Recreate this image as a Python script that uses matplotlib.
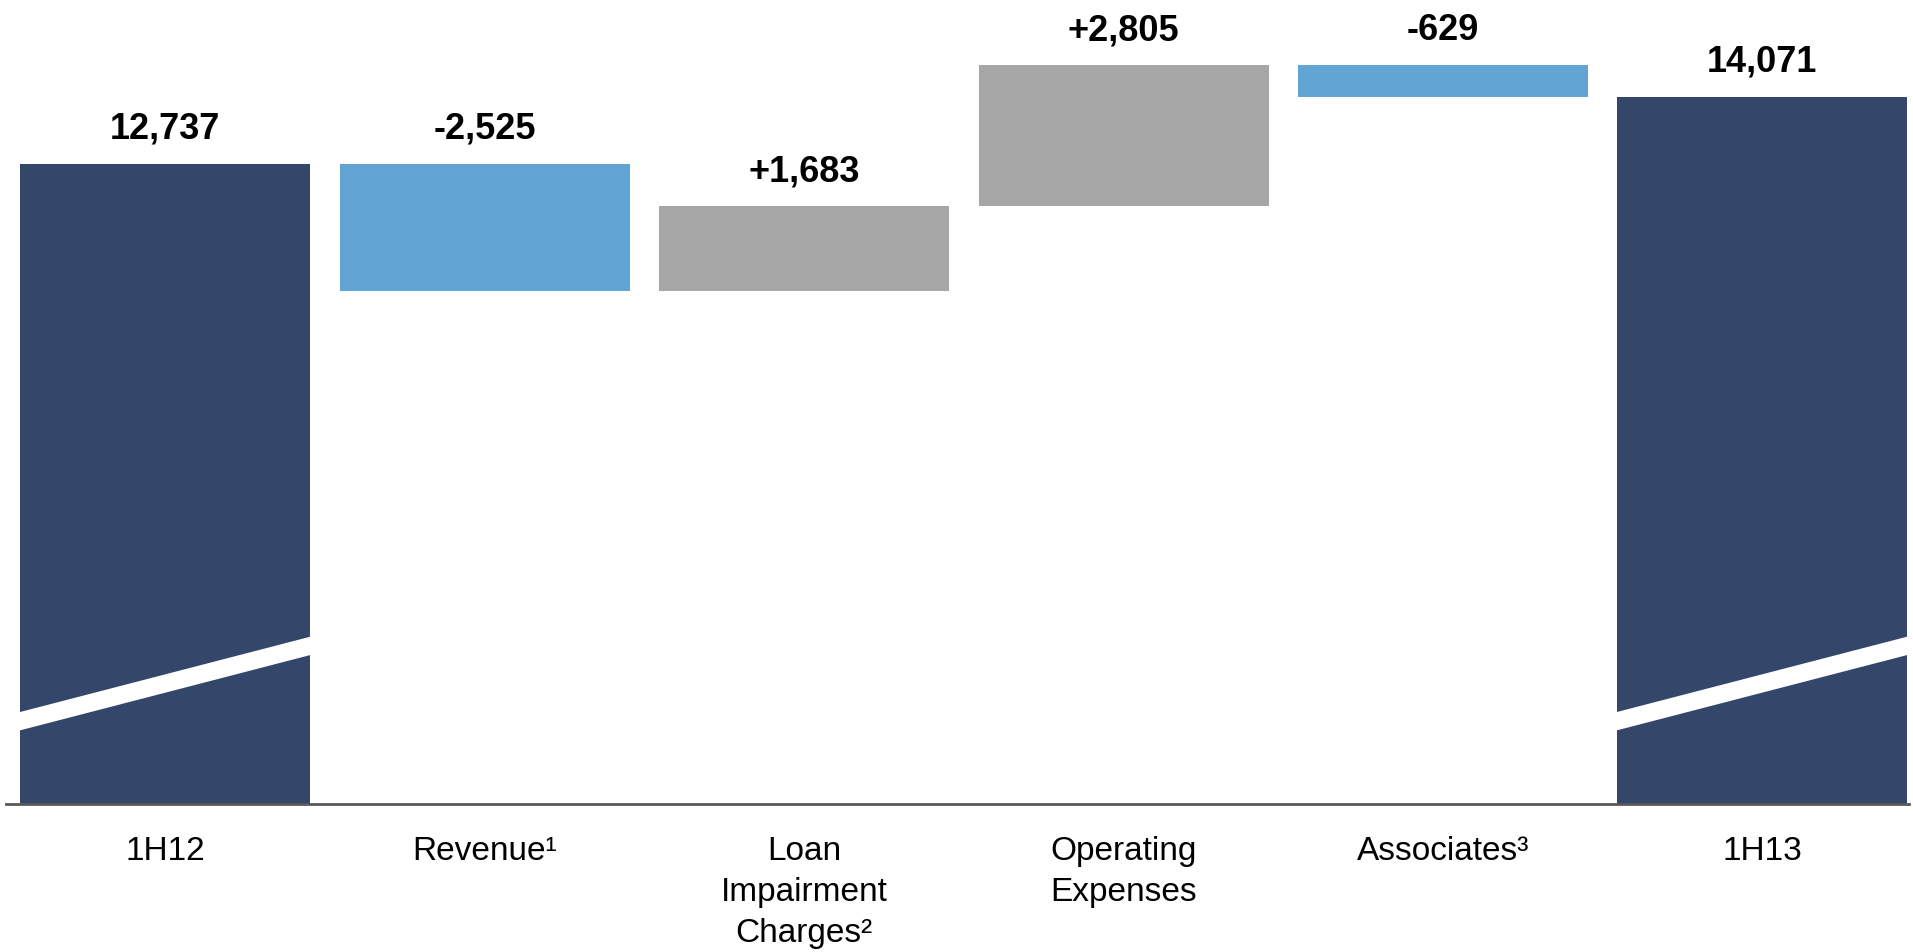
import numpy as np
import matplotlib.pyplot as plt

# waterfall data (1H12 -> 1H13)
categories = ["1H12", "Revenue\u00b9", "Loan\nImpairment\nCharges\u00b2",
              "Operating\nExpenses", "Associates\u00b3", "1H13"]
values = [12737, -2525, 1683, 2805, -629, 14071]
is_total = [True, False, False, False, False, True]

NAVY = "#34476b"
LIGHT_BLUE = "#62a4d3"
GREY = "#a6a6a6"

plt.rcParams['font.family'] = ['Liberation Sans', 'DejaVu Sans']

fig = plt.figure(figsize=(19.13, 9.53), dpi=100)
ax = fig.add_axes([0.003, 0.155, 0.995, 0.845])

x = np.arange(len(categories))
width = 0.908

bottoms = []
heights = []
colors = []
labels = []
running = 0
for v, tot in zip(values, is_total):
    if tot:
        bottoms.append(0)
        heights.append(v)
        colors.append(NAVY)
        labels.append(f"{v:,}")
        running = v
    else:
        start = running
        running = running + v
        bottoms.append(min(start, running))
        heights.append(abs(v))
        colors.append(GREY if v > 0 else LIGHT_BLUE)
        labels.append(f"{v:+,}")

ax.bar(x, heights, bottom=bottoms, width=width, color=colors, zorder=2)

for xi, b, h, lab in zip(x, bottoms, heights, labels):
    ax.annotate(lab, (xi, b + h), xytext=(0, 13), textcoords="offset points",
                ha="center", va="bottom", fontsize=26, fontweight="bold",
                color="black")

# axis-break stripe on the total bars
break_y0 = 1456
break_rise = 1530
break_h = 365
for xi, tot in zip(x, is_total):
    if tot:
        xl, xr = xi - width / 2 - 0.01, xi + width / 2 + 0.01
        ax.fill([xl, xr, xr, xl],
                [break_y0, break_y0 + break_rise, break_y0 + break_rise + break_h, break_y0 + break_h],
                color="white", zorder=3, lw=0)

ax.set_xlim(-0.5, 5.46)
ax.set_ylim(0, 16020)
ax.set_xticks(x)
ax.set_xticklabels(categories, fontsize=24, linespacing=1.42)
ax.tick_params(axis="x", length=0, pad=22)
ax.set_yticks([])
for s in ["top", "left", "right"]:
    ax.spines[s].set_visible(False)
ax.spines["bottom"].set_color("#595959")
ax.spines["bottom"].set_linewidth(2)
ax.spines["bottom"].set_zorder(4)

fig.savefig("out.png", dpi=100)
